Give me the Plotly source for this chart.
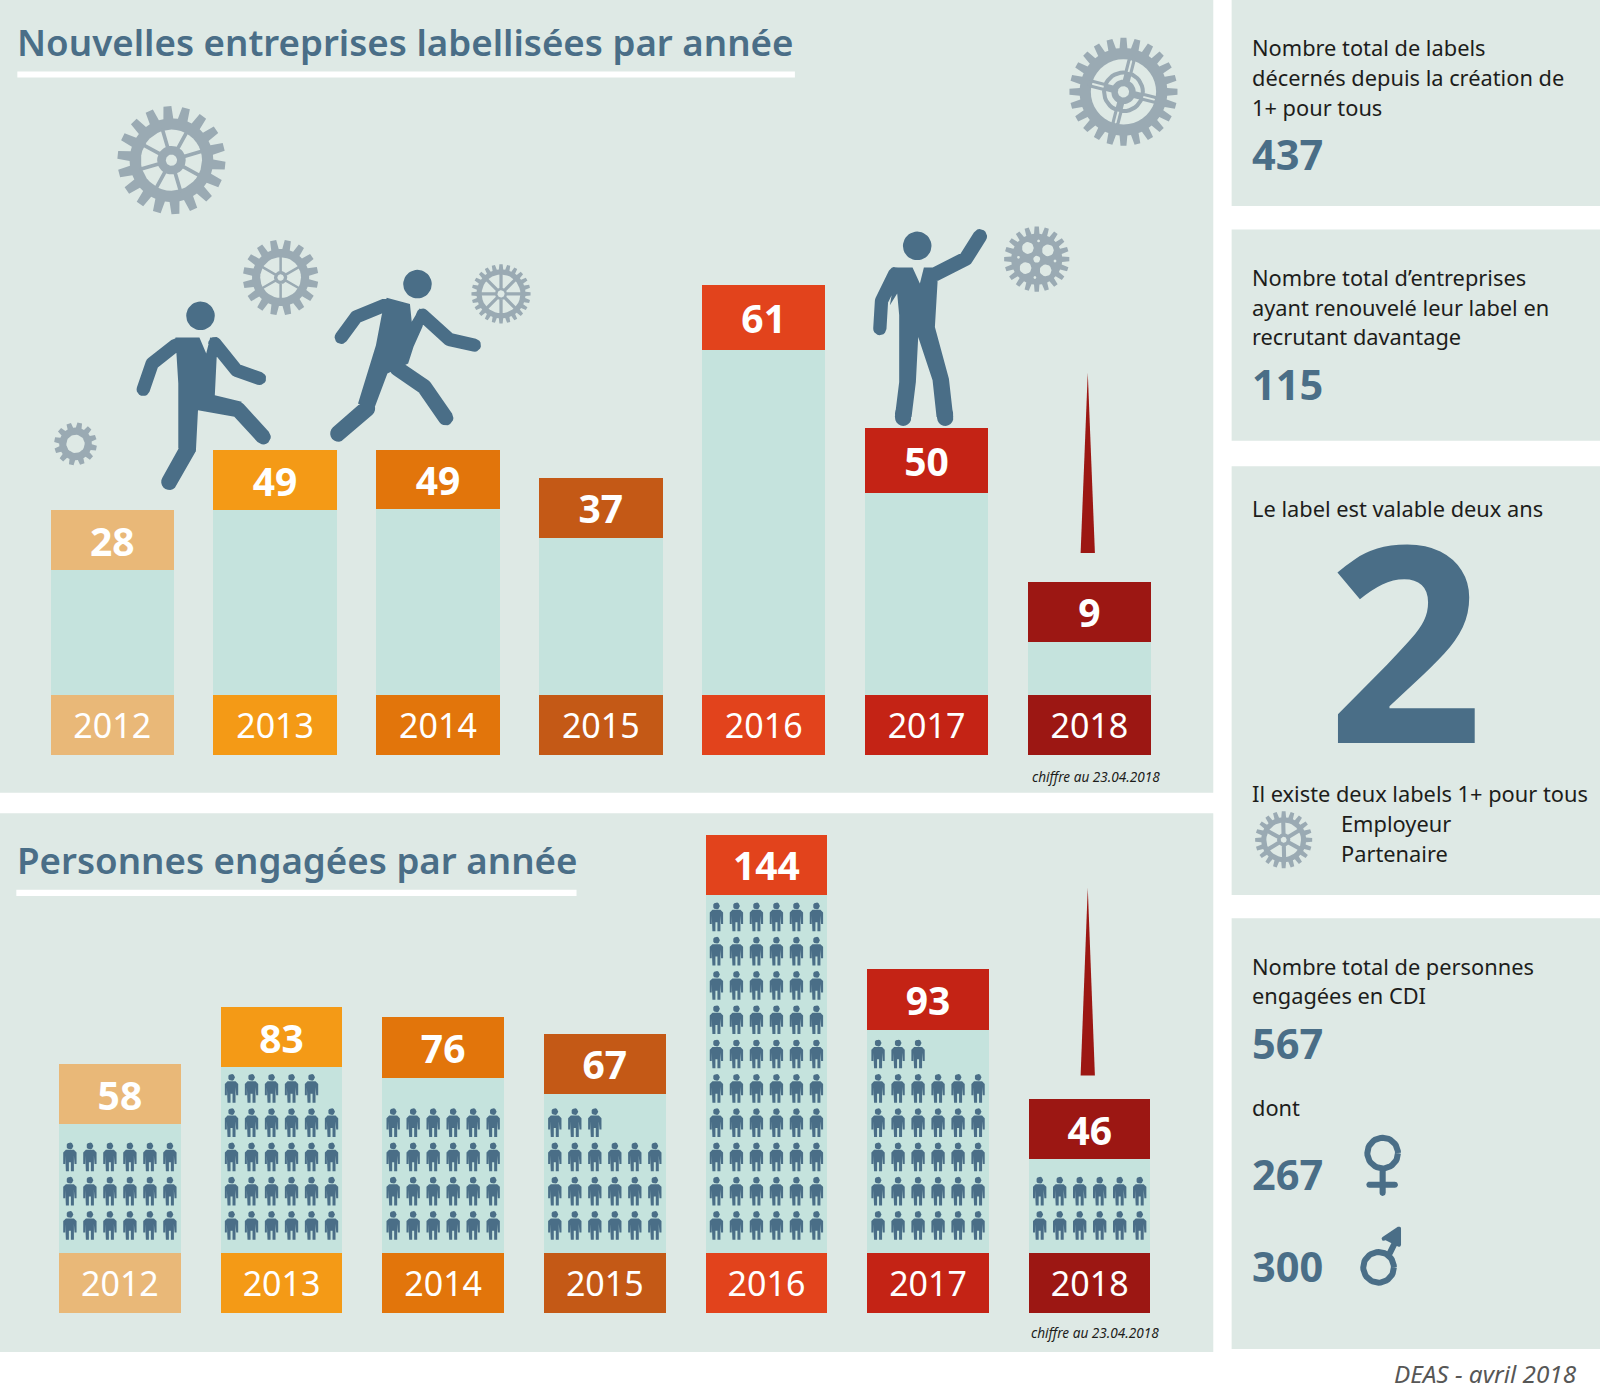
import math
import plotly.graph_objects as go

# ---------------- data ----------------
years = [2012, 2013, 2014, 2015, 2016, 2017, 2018]
labels_count = [28, 49, 49, 37, 61, 50, 9]
labels_height = [122, 181, 182, 154, 338, 198, 52]
labels_cell = [59, 59, 58, 59, 64, 64, 59]
people_count = [58, 83, 76, 67, 144, 93, 46]
people_height = [126, 182, 172, 156, 351, 219, 92]
people_cell = [59, 59, 59, 59, 59, 59, 59]
people_icons = [18, 29, 24, 21, 60, 33, 12]
year_cell = [59] * 7
year_colors = ["#E9B878", "#F49A16", "#E2750B", "#C45916", "#E2431C", "#C42315", "#9C1713"]

title_top = "Nouvelles entreprises labellisées par année"
title_bottom = "Personnes engagées par année"
note = "chiffre au 23.04.2018"
source = "DEAS - avril 2018"
total_labels = "437"
total_renewed = "115"
validity_years = "2"
total_hired = "567"
women = "267"
men = "300"

# ---------------- styles ----------------
W, H = 1600, 1383
DW, DH = 1568.0, 1568.0 * 1383 / 1600   # drawing units of the overlay axes
BG = "#DEE9E5"
BODY = "#C5E3DD"
BLUE = "#4A6E87"
GRAY = "#9AAAB3"
INK = "#1D1D1B"
SPIKE = "#9C1713"
FONT = "Noto Sans"

fig = go.Figure()

def yaxis_for(base):
    return dict(domain=[0, 1], range=[base - DH, base], visible=False, fixedrange=True)

def xaxis_for(first, pitch):
    left = years[0] - first / pitch
    return dict(domain=[0, 1], range=[left, left + DW / pitch], visible=False, fixedrange=True)

PITCH1, PITCH2 = 159.6, 158.4
layout_axes = dict(
    xaxis=xaxis_for(110, PITCH1), yaxis=yaxis_for(740),
    xaxis2=xaxis_for(117.5, PITCH2), yaxis2=yaxis_for(1287),
    xaxis3=dict(domain=[0, 1], range=[0, DW], visible=False, fixedrange=True),
    yaxis3=dict(domain=[0, 1], range=[DH, 0], visible=False, fixedrange=True),
)
layout_axes["xaxis"]["anchor"] = "y"
layout_axes["yaxis"]["anchor"] = "x"
layout_axes["xaxis2"]["anchor"] = "y2"
layout_axes["yaxis2"]["anchor"] = "x2"
layout_axes["xaxis3"]["anchor"] = "y3"
layout_axes["yaxis3"]["anchor"] = "x3"

def stack(counts, heights, cells, pitch, xa, ya, width):
    w = width / pitch
    common = dict(x=years, xaxis=xa, yaxis=ya, width=w, textposition="inside",
                  insidetextanchor="middle", textangle=0, constraintext="none",
                  cliponaxis=False, showlegend=False, hoverinfo="skip")
    fig.add_bar(y=year_cell, marker=dict(color=year_colors, line=dict(width=0)),
                text=[str(v) for v in years],
                textfont=dict(family=FONT, size=34, color="white"), **common)
    fig.add_bar(y=heights, marker=dict(color=BODY, line=dict(width=0)), **common)
    fig.add_bar(y=cells, marker=dict(color=year_colors, line=dict(width=0)),
                text=[str(v) for v in counts],
                textfont=dict(family=FONT, size=39, color="white", weight=700), **common)

stack(labels_count, labels_height, labels_cell, PITCH1, "x", "y", 121)
stack(people_count, people_height, people_cell, PITCH2, "x2", "y2", 119)

# ---------------- polygon helpers ----------------
def oriented(pts):
    area = sum(pts[i][0] * pts[(i + 1) % len(pts)][1] - pts[(i + 1) % len(pts)][0] * pts[i][1]
               for i in range(len(pts)))
    return pts if area > 0 else pts[::-1]

def circle(cx, cy, r, n=40):
    return [(cx + r * math.cos(2 * math.pi * i / n), cy + r * math.sin(2 * math.pi * i / n)) for i in range(n)]

def capsule(p, q, w, n=10):
    a = math.atan2(q[1] - p[1], q[0] - p[0])
    r = w / 2
    pts = []
    for i in range(n + 1):
        t = a + math.pi / 2 + math.pi * i / n
        pts.append((p[0] + r * math.cos(t), p[1] + r * math.sin(t)))
    for i in range(n + 1):
        t = a - math.pi / 2 + math.pi * i / n
        pts.append((q[0] + r * math.cos(t), q[1] + r * math.sin(t)))
    return pts

def polyline(points, w):
    return [capsule(points[i], points[i + 1], w) for i in range(len(points) - 1)]

def gear_outline(cx, cy, R, root, n, tilt=0.0):
    pts = []
    step = 2 * math.pi / n
    for i in range(n):
        a = tilt + i * step
        for da, r in ((-0.34, root), (-0.21, R), (0.21, R), (0.34, root)):
            t = a + da * step
            pts.append((cx + r * math.cos(t), cy + r * math.sin(t)))
    return pts

def spokes(cx, cy, r, n, w, tilt=0.0):
    out = []
    for i in range(n):
        t = tilt + 2 * math.pi * i / n
        out.append(capsule((cx, cy), (cx + r * math.cos(t), cy + r * math.sin(t)), w, 3))
    return out

def fill(polys, color, xa="x3", ya="y3"):
    xs, ys = [], []
    for poly in polys:
        poly = oriented(poly)
        xs += [p[0] for p in poly] + [poly[0][0], None]
        ys += [p[1] for p in poly] + [poly[0][1], None]
    fig.add_scatter(x=xs, y=ys, mode="lines", fill="toself", fillcolor=color,
                    line=dict(width=0, color=color), xaxis=xa, yaxis=ya,
                    showlegend=False, hoverinfo="skip")

# ---------------- pictogram people, one icon per cell ----------------
PERSON = [(-12, 64), (12, 64), (20, 56), (20, 22), (14, 22), (14, 47), (12, 47), (12, 0), (3, 0),
          (3, 27), (-3, 27), (-3, 0), (-12, 0), (-12, 47), (-14, 47), (-14, 22), (-20, 22), (-20, 56)]
ICON = 0.327
COLS = 6
icon_polys = []
for yr, count, box in zip(years, people_icons, year_cell):
    for k in range(count):
        col = k % COLS
        row = k // COLS
        cx = yr + (col - (COLS - 1) / 2) * 19.6 / PITCH2
        foot = box + 13 + row * 33.6
        icon_polys.append([(cx + px * ICON / PITCH2, foot + py * ICON) for px, py in PERSON])
        icon_polys.append([(cx + px / PITCH2, py) for px, py in circle(0, foot + 24.8, 3.4, 14)])
fill(icon_polys, BLUE, "x2", "y2")

# ---------------- heroes ----------------
def z2(p):
    return (p[0] / 2.85, p[1] / 3.06)

def z3(p):
    return (823 + 0.327 * p[0], 19.6 + 0.327 * p[1])

hero = []
# jumping man
hero.append(circle(*z2((560, 947)), 14))
hero.append([z2(p) for p in [(490, 1012), (557, 1012), (576, 1060), (587, 1012), (610, 1018), (605, 1075),
                             (600, 1185), (675, 1205), (655, 1250), (553, 1230), (547, 1355), (498, 1345),
                             (498, 1150), (492, 1065)]])
hero += polyline([z2(p) for p in [(490, 1035), (425, 1090), (400, 1168)]], 13)
hero += polyline([z2(p) for p in [(600, 1030), (660, 1110), (725, 1135)]], 13)
hero += polyline([z2(p) for p in [(620, 1215), (665, 1228), (735, 1310)]], 15)
hero += polyline([z2(p) for p in [(525, 1345), (473, 1445)]], 16)
# running man
hero.append(circle(*z2((1166, 852)), 14))
hero.append([z2(p) for p in [(1080, 893), (1145, 912), (1150, 965), (1172, 925), (1190, 935), (1180, 980),
                             (1155, 1040), (1140, 1090), (1082, 1120), (1040, 1240), (1000, 1210),
                             (1050, 1035), (1066, 945)]])
hero += polyline([z2(p) for p in [(1075, 915), (995, 950), (953, 1012)]], 13)
hero += polyline([z2(p) for p in [(1180, 945), (1255, 1018), (1325, 1035)]], 13)
hero += polyline([z2(p) for p in [(1110, 1105), (1185, 1160), (1245, 1253)]], 15)
hero += polyline([z2(p) for p in [(1025, 1225), (945, 1300)]], 16)
# standing man
hero.append(circle(*z3((232, 677)), 14))
hero.append([z3(p) for p in [(170, 742), (218, 742), (240, 790), (252, 742), (290, 742), (293, 785), (285, 920),
                             (327, 1075), (340, 1190), (290, 1190), (278, 1080), (235, 950), (228, 1085),
                             (215, 1190), (165, 1190), (178, 1085), (178, 885), (172, 820), (150, 855)]])
hero += polyline([z3(p) for p in [(165, 760), (125, 842), (120, 925)]], 13)
hero += polyline([z3(p) for p in [(285, 762), (378, 715), (420, 648)]], 14)
hero.append(capsule(z3((315, 1178)), z3((316, 1192)), 16))
hero.append(capsule(z3((190, 1178)), z3((190, 1192)), 16))
fill(hero, BLUE)

# ---------------- gears ----------------
def gear_a():
    c = (168, 157)
    fill([gear_outline(*c, 53, 41, 18, 0.1)], GRAY)
    fill([circle(*c, 30)], BG)
    fill(spokes(*c, 31, 8, 3.6, 0.5) + [circle(*c, 14)], GRAY)
    fill([circle(*c, 5.5)], BG)

def gear_b():
    c = (275, 272)
    fill([gear_outline(*c, 37, 28, 16, -0.2)], GRAY)
    fill([circle(*c, 20)], BG)
    fill(spokes(*c, 21, 6, 2.5, math.pi / 2) + [circle(*c, 6.5)], GRAY)
    fill([circle(*c, 3.2)], BG)

def gear_c():
    c = (491, 288)
    fill([gear_outline(*c, 29, 24, 24, 0.0)], GRAY)
    fill([circle(*c, 19)], BG)
    fill(spokes(*c, 20, 8, 3.2, 0.0) + [circle(*c, 6)], GRAY)
    fill([circle(*c, 3.5)], BG)

def gear_d():
    c = (74, 435)
    fill([gear_outline(*c, 21, 16, 12, 0.2)], GRAY)
    fill([circle(*c, 9)], BG)

def gear_e():
    c = (1101, 90)
    fill([gear_outline(*c, 53, 43, 24, 0.0)], GRAY)
    fill([circle(*c, 32)], BG)
    fill(spokes(*c, 33, 4, 8, 0.25) + [circle(*c, 21)], GRAY)
    fill(spokes(*c, 31, 4, 1.8, 0.25) + [circle(*c, 17)], BG)
    fill(spokes(*c, 17, 4, 7, 0.25) + [circle(*c, 12)], GRAY)
    fill([circle(*c, 5.5)], BG)

def gear_f():
    c = (1016, 254)
    fill([gear_outline(*c, 32, 25, 20, 0.0)], GRAY)
    holes = [circle(c[0] + 14 * math.cos(0.9 + i * 2 * math.pi / 4), c[1] + 14 * math.sin(0.9 + i * 2 * math.pi / 4), 5.8, 20)
             for i in range(4)]
    holes.append(circle(*c, 3.4, 16))
    holes += [circle(c[0] + 18 * math.cos(0.1 + i * math.pi / 2), c[1] + 18 * math.sin(0.1 + i * math.pi / 2), 1.4, 8) for i in range(4)]
    fill(holes, BG)

def gear_g():
    c = (1258, 823)
    fill([gear_outline(*c, 28, 22, 20, 0.0)], GRAY)
    fill([circle(*c, 17)], BG)
    fill(spokes(*c, 18, 6, 4, 0.5) + [circle(*c, 6.5)], GRAY)
    fill([circle(*c, 3)], BG)

for g in (gear_a, gear_b, gear_c, gear_d, gear_e, gear_f, gear_g):
    g()

# ---------------- spikes for the unfinished year ----------------
fill([[(1066, 365), (1073, 542), (1059, 542)]], SPIKE)
fill([[(1066, 870), (1073, 1054), (1059, 1054)]], SPIKE)

# ---------------- gender signs ----------------
fill([capsule((1355, 1148), (1355, 1169), 6), capsule((1342, 1161), (1367, 1161), 6)], BLUE)
fill(polyline([(1362, 1228), (1370, 1212)], 6) + [[(1373, 1203), (1371, 1222), (1355, 1214)]] +
     [capsule((1371, 1204), (1371, 1220), 4), capsule((1371, 1204), (1356, 1214), 4)], BLUE)
for cx, cy in ((1355, 1130), (1351, 1242)):
    ring = circle(cx, cy, 15, 48)
    fig.add_scatter(x=[p[0] for p in ring] + [ring[0][0]], y=[p[1] for p in ring] + [ring[0][1]],
                    mode="lines", line=dict(color=BLUE, width=6), xaxis="x3", yaxis="y3",
                    showlegend=False, hoverinfo="skip")

# ---------------- panels (paper coordinates) ----------------
def panel(x0, y0, x1, y1, color=BG):
    return dict(type="rect", xref="paper", yref="paper", layer="below",
                x0=x0 / DW, x1=x1 / DW, y0=1 - y0 / DH, y1=1 - y1 / DH,
                fillcolor=color, line=dict(width=0))

shapes = [panel(0, 0, 1189, 777), panel(0, 797, 1189, 1325),
          panel(1207, 0, DW, 202), panel(1207, 225, DW, 432),
          panel(1207, 457, DW, 877), panel(1207, 900, DW, 1322),
          panel(17, 70, 779, 76, "white"), panel(16, 872, 565, 878, "white")]

# ---------------- texts ----------------
def note_text(x, y, text, size, color=INK, weight=400, italic=False, anchor="left"):
    return dict(xref="x3", yref="y3", x=x, y=y, text=text, showarrow=False, xanchor=anchor, yanchor="middle",
                align=anchor, font=dict(family=FONT, size=size, color=color, weight=weight,
                                        style="italic" if italic else "normal"))

TXT = 21.8
NUM = 41.5
X = 1225
annots = [
    note_text(15, 41, title_top, 36.7, BLUE, 600),
    note_text(15, 843, title_bottom, 36.7, BLUE, 600),
    note_text(1139, 761, note, 13.6, INK, 400, True, "right"),
    note_text(1138, 1306, note, 13.6, INK, 400, True, "right"),
    note_text(1547, 1346, source, 24.3, "#575756", 400, True, "right"),
    note_text(X, 47, "Nombre total de labels", TXT),
    note_text(X, 76, "décernés depuis la création de", TXT),
    note_text(X, 105, "1+ pour tous", TXT),
    note_text(X, 151, total_labels, NUM, BLUE, 700),
    note_text(X, 272, "Nombre total d’entreprises", TXT),
    note_text(X, 301, "ayant renouvelé leur label en", TXT),
    note_text(X, 330, "recrutant davantage", TXT),
    note_text(X, 376, total_renewed, NUM, BLUE, 700),
    note_text(X, 498, "Le label est valable deux ans", TXT),
    note_text(1377, 624, validity_years, 274, BLUE, 700, False, "center"),
    note_text(X, 778, "Il existe deux labels 1+ pour tous", TXT),
    note_text(1312, 807, "Employeur", TXT),
    note_text(1312, 836, "Partenaire", TXT),
    note_text(X, 947, "Nombre total de personnes", TXT),
    note_text(X, 976, "engagées en CDI", TXT),
    note_text(X, 1022, total_hired, NUM, BLUE, 700),
    note_text(X, 1085, "dont", TXT),
    note_text(X, 1151, women, NUM, BLUE, 700),
    note_text(X, 1241, men, NUM, BLUE, 700),
]

fig.update_layout(width=W, height=H, autosize=False, margin=dict(l=0, r=0, t=0, b=0),
                  paper_bgcolor="white", plot_bgcolor="rgba(0,0,0,0)", barmode="stack",
                  showlegend=False, shapes=shapes, annotations=annots, **layout_axes)
fig.write_html("out.html", config=dict(displayModeBar=False),
               post_script="document.body.style.margin='0';document.documentElement.style.overflow='hidden';")
